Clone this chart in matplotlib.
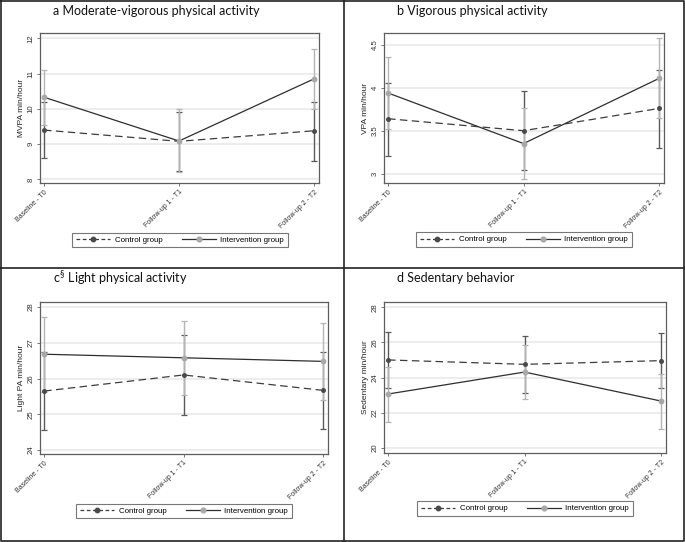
import matplotlib
matplotlib.use("Agg")
import matplotlib.pyplot as plt
from matplotlib.lines import Line2D

W, H = 685, 542
plt.rcParams['font.family'] = ['Liberation Sans', 'DejaVu Sans']
plt.rcParams['mathtext.fontset'] = 'custom'
plt.rcParams['mathtext.rm'] = 'Lato'

timepoints = ["Baseline - T0", "Follow-up 1 - T1", "Follow-up 2 - T2"]

titles = ["a Moderate-vigorous physical activity", "b Vigorous physical activity",
          r"c$^{\S}\mathrm{\ }$Light physical activity", "d Sedentary behavior"]
ylabels = ["MVPA min/hour", "VPA min/hour", "Light PA min/hour", "Sedentary min/hour"]
yticks = [[8, 9, 10, 11, 12], [3, 3.5, 4, 4.5], [24, 25, 26, 27, 28], [20, 22, 24, 26, 28]]
ylims = [(7.9, 12.15), (2.89, 4.64), (23.89, 28.14), (19.7, 28.3)]

# Panel a
a_ctrl_mean = [9.40, 9.08, 9.38]
a_ctrl_lo = [8.60, 8.25, 8.53]
a_ctrl_hi = [10.20, 9.91, 10.20]
a_int_mean = [10.33, 9.09, 10.85]
a_int_lo = [9.54, 8.20, 9.99]
a_int_hi = [11.11, 9.99, 11.71]
# Panel b
b_ctrl_mean = [3.64, 3.50, 3.76]
b_ctrl_lo = [3.21, 3.04, 3.30]
b_ctrl_hi = [4.06, 3.96, 4.21]
b_int_mean = [3.94, 3.35, 4.11]
b_int_lo = [3.52, 2.94, 3.65]
b_int_hi = [4.36, 3.76, 4.58]
# Panel c
c_ctrl_mean = [25.65, 26.10, 25.67]
c_ctrl_lo = [24.57, 24.97, 24.60]
c_ctrl_hi = [26.73, 27.23, 26.74]
c_int_mean = [26.68, 26.58, 26.48]
c_int_lo = [25.63, 25.54, 25.41]
c_int_hi = [27.73, 27.62, 27.55]
# Panel d
d_ctrl_mean = [25.00, 24.75, 24.96]
d_ctrl_lo = [23.38, 23.12, 23.38]
d_ctrl_hi = [26.61, 26.38, 26.52]
d_int_mean = [23.06, 24.31, 22.66]
d_int_lo = [21.48, 22.77, 21.06]
d_int_hi = [24.60, 25.85, 24.22]

panels = [
    (a_ctrl_mean, a_ctrl_lo, a_ctrl_hi, a_int_mean, a_int_lo, a_int_hi),
    (b_ctrl_mean, b_ctrl_lo, b_ctrl_hi, b_int_mean, b_int_lo, b_int_hi),
    (c_ctrl_mean, c_ctrl_lo, c_ctrl_hi, c_int_mean, c_int_lo, c_int_hi),
    (d_ctrl_mean, d_ctrl_lo, d_ctrl_hi, d_int_mean, d_int_lo, d_int_hi),
]

# pixel boxes: left, right, top, bottom
boxes = [(40, 319, 33, 183), (384, 664, 33, 183), (40, 328, 302, 454), (384, 666, 302, 453)]
title_pos = [(53, 11), (397, 11), (53, 278), (397, 278)]
legend_pos = [(180, 240), (524, 239.5), (184, 511), (525, 508.5)]

CTRL_LINE = '#3c3c3c'
CTRL_MK = '#4a4a4a'
CTRL_ERR = '#5a5a5a'
INT_LINE = '#2e2e2e'
INT_MK = '#a8a8a8'
INT_ERR = '#b4b4b4'
FRAME = '#5e5e5e'

fig = plt.figure(figsize=(W / 100, H / 100), dpi=100)

for i, (cm, cl, ch, im, il, ih) in enumerate(panels):
    l, r, t, b = boxes[i]
    ax = fig.add_axes([l / W, 1 - b / H, (r - l) / W, (b - t) / H])
    x = list(range(len(timepoints)))
    ax.set_ylim(*ylims[i])
    ax.set_xlim(-0.03, 2.037)
    ax.set_yticks(yticks[i])
    ax.set_yticklabels([('%g' % v) for v in yticks[i]], rotation=90, va='center', fontsize=5.6)
    ax.set_xticks(x)
    ax.set_xticklabels(timepoints, rotation=45, ha='right', rotation_mode='anchor', fontsize=5)
    ax.grid(axis='y', color='#ececec', lw=1.3, zorder=0)
    ax.set_axisbelow(True)
    for s in ax.spines.values():
        s.set_color(FRAME)
        s.set_linewidth(0.9)
    ax.tick_params(axis='both', length=2.5, width=0.6, color=FRAME, pad=1.5, labelcolor='#333333')
    ax.set_ylabel(ylabels[i], fontsize=6, labelpad=2, color='#222222')

    cerr = [[m - lo for m, lo in zip(cm, cl)], [hi - m for m, hi in zip(cm, ch)]]
    ierr = [[m - lo for m, lo in zip(im, il)], [hi - m for m, hi in zip(im, ih)]]
    ax.errorbar(x, cm, yerr=cerr, fmt='none', ecolor=CTRL_ERR, elinewidth=1.0, capsize=2.0, capthick=0.9, zorder=2)
    ax.errorbar(x, im, yerr=ierr, fmt='none', ecolor=INT_ERR, elinewidth=1.0, capsize=2.0, capthick=0.9, zorder=3)
    ax.plot(x, cm, color=CTRL_LINE, lw=0.9, ls=(0, (6, 3.5)), zorder=4)
    ax.plot(x, im, color=INT_LINE, lw=0.9, ls='-', zorder=4)
    ax.plot(x, cm, 'o', color=CTRL_MK, ms=3.6, mew=0, zorder=5)
    ax.plot(x, im, 'o', color=INT_MK, ms=4.2, mew=0, zorder=5)

    tx, ty = title_pos[i]
    fig.text(tx / W, 1 - ty / H, titles[i], fontsize=9, family='Lato', ha='left', va='center', color='#111111')

    handles = [
        Line2D([], [], color=CTRL_LINE, lw=0.9, ls=(0, (3, 2)), marker='o', ms=3.2, mfc=CTRL_MK, mec=CTRL_MK),
        Line2D([], [], color=INT_LINE, lw=0.9, ls='-', marker='o', ms=3.4, mfc=INT_MK, mec=INT_MK),
    ]
    lx, ly = legend_pos[i]
    leg = fig.legend(handles, ["Control group", "Intervention group"], loc='center',
                     bbox_to_anchor=(lx / W, 1 - ly / H), ncol=2, fontsize=5.7, frameon=True,
                     fancybox=False, edgecolor='#555555', handlelength=4.3, handletextpad=0.6,
                     columnspacing=2.4, borderpad=0.45, numpoints=1)
    leg.get_frame().set_linewidth(0.8)

# panel borders
border_kw = dict(color='#222222', lw=1.2, transform=fig.transFigure)
def fx(px):
    return px / W
def fy(py):
    return 1 - py / H
fig.add_artist(Line2D([fx(0.6), fx(684.4), fx(684.4), fx(0.6), fx(0.6)],
                      [fy(0.6), fy(0.6), fy(541.4), fy(541.4), fy(0.6)], **border_kw))
fig.add_artist(Line2D([fx(344), fx(344)], [fy(0), fy(542)], **border_kw))
fig.add_artist(Line2D([fx(0), fx(685)], [fy(268), fy(268)], **border_kw))

fig.savefig("out.png", dpi=100)
